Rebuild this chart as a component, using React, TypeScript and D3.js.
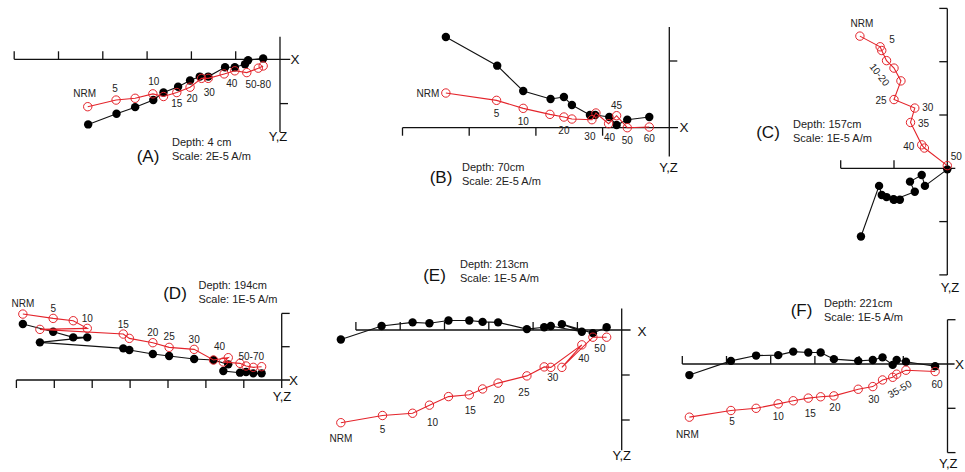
import React, { useEffect, useRef } from "react";
import * as d3 from "d3";

type Pt = [number, number];

// demagnetisation steps (mT), "" = step plotted without a label
const stepsA = ["NRM", "5", "", "10", "", "15", "20", "", "30", "", "40", "", "", "50-80"];
const stepsB = ["NRM", "5", "10", "", "20", "", "30", "", "40", "45", "50", "60"];
const stepsC = ["NRM", "5", "", "10-20", "", "", "25", "30", "35", "40", "", "50"];
const stepsD = ["NRM", "5", "", "10", "", "15", "", "20", "25", "30", "40", "", "", "", "", "50-70", ""];
const stepsE = ["NRM", "5", "", "10", "", "15", "", "20", "25", "", "30", "40", "", "50", ""];
const stepsF = ["NRM", "5", "", "10", "", "15", "", "20", "", "30", "", "", "35-50", "", "60"];

// projections in units of one scale tick: [x, y/z], filled = horizontal, open = vertical
const horA: Pt[] = [[-4.33, 1.47], [-3.69, 1.23], [-3.27, 1.08], [-2.86, 0.92], [-2.63, 0.75], [-2.3, 0.62], [-2.03, 0.48], [-1.81, 0.39], [-1.62, 0.39], [-1.24, 0.18], [-1.02, 0.18], [-0.79, 0.11], [-0.72, 0.02], [-0.38, -0.02]];
const vertA: Pt[] = [[-4.34, 1.07], [-3.7, 0.92], [-3.27, 0.88], [-2.87, 0.78], [-2.63, 0.84], [-2.33, 0.75], [-2.03, 0.63], [-1.77, 0.43], [-1.62, 0.43], [-1.26, 0.33], [-1.02, 0.26], [-0.75, 0.3], [-0.49, 0.2], [-0.38, 0.15]];

const horB: Pt[] = [[-3.35, -1.36], [-2.58, -0.93], [-2.19, -0.55], [-1.78, -0.43], [-1.58, -0.46], [-1.46, -0.34], [-1.19, -0.19], [-1.11, -0.19], [-0.9, -0.16], [-0.79, -0.04], [-0.63, -0.12], [-0.3, -0.16]];
const vertB: Pt[] = [[-3.35, -0.52], [-2.59, -0.41], [-2.19, -0.29], [-1.79, -0.2], [-1.58, -0.16], [-1.46, -0.13], [-1.16, -0.12], [-1.1, -0.22], [-0.91, -0.06], [-0.79, -0.18], [-0.63, 0], [-0.3, -0.01]];

const horC: Pt[] = [[-1.62, 1.28], [-1.28, 0.33], [-1.23, 0.5], [-1.14, 0.54], [-1.01, 0.58], [-0.89, 0.59], [-1.0, 0.59], [-0.61, 0.44], [-0.7, 0.25], [-0.48, 0.125], [-0.42, 0.33], [0, 0.02]];
const vertC: Pt[] = [[-1.64, -2.48], [-1.26, -2.28], [-1.23, -2.21], [-1.14, -2.02], [-1.0, -1.88], [-0.87, -1.64], [-1.0, -1.29], [-0.61, -1.13], [-0.69, -0.86], [-0.48, -0.44], [-0.43, -0.38], [0, -0.05]];

const horD: Pt[] = [[-6.83, -1.68], [-6.03, -1.45], [-5.5, -1.28], [-5.13, -1.28], [-6.38, -1.13], [-4.18, -0.95], [-4.02, -0.9], [-3.4, -0.78], [-2.97, -0.72], [-2.31, -0.63], [-1.8, -0.6], [-1.41, -0.47], [-1.54, -0.27], [-1.1, -0.22], [-0.94, -0.24], [-0.75, -0.2], [-0.53, -0.2]];
const vertD: Pt[] = [[-6.83, -1.98], [-6.03, -1.85], [-5.5, -1.78], [-5.13, -1.55], [-6.38, -1.52], [-4.18, -1.38], [-4.02, -1.25], [-3.4, -1.12], [-2.97, -0.98], [-2.31, -0.92], [-1.8, -0.6], [-1.41, -0.67], [-1.54, -0.54], [-1.1, -0.5], [-0.94, -0.42], [-0.75, -0.38], [-0.53, -0.4]];

const horE: Pt[] = [[-6.34, 0.21], [-5.42, -0.09], [-4.72, -0.17], [-4.34, -0.15], [-3.91, -0.21], [-3.44, -0.21], [-3.14, -0.18], [-2.79, -0.17], [-2.14, -0.02], [-1.75, -0.06], [-1.6, -0.09], [-0.9, 0.04], [-1.35, -0.13], [-0.65, 0.07], [-0.34, -0.06]];
const vertE: Pt[] = [[-6.34, 2.06], [-5.4, 1.9], [-4.72, 1.85], [-4.34, 1.67], [-3.91, 1.48], [-3.44, 1.44], [-3.14, 1.31], [-2.79, 1.18], [-2.14, 1.02], [-1.75, 0.82], [-1.6, 0.83], [-0.9, 0.33], [-1.35, 0.83], [-0.65, 0.16], [-0.34, 0.16]];

const horF: Pt[] = [[-5.84, 0.25], [-4.9, -0.07], [-4.33, -0.19], [-3.83, -0.2], [-3.49, -0.28], [-3.15, -0.26], [-2.87, -0.26], [-2.57, -0.11], [-2.02, -0.07], [-1.69, -0.09], [-1.47, -0.15], [-1.24, 0.02], [-1.15, -0.09], [-0.94, -0.05], [-0.28, 0.05]];
const vertF: Pt[] = [[-5.84, 1.2], [-4.9, 1.05], [-4.33, 1.0], [-3.83, 0.9], [-3.49, 0.83], [-3.15, 0.77], [-2.87, 0.74], [-2.57, 0.72], [-2.02, 0.57], [-1.69, 0.51], [-1.47, 0.36], [-1.24, 0.3], [-1.15, 0.23], [-0.94, 0.14], [-0.28, 0.17]];

const depths = ["Depth: 4 cm", "Depth: 70cm", "Depth: 157cm", "Depth: 194cm", "Depth: 213cm", "Depth: 221cm"];
const scales = ["Scale: 2E-5 A/m", "Scale: 2E-5 A/m", "Scale: 1E-5 A/m", "Scale: 1E-5 A/m", "Scale: 1E-5 A/m", "Scale: 1E-5 A/m"];
const tags = ["(A)", "(B)", "(C)", "(D)", "(E)", "(F)"];

// layout: origin, tick size in px, axis extents (ticks), tick direction, text spots, label offsets
const layout = [
  { ox: 280, oy: 59.3, ux: 44.3, uy: 44.3, hx: [-6, 0.23], vy: [-0.51, 1.64], hDown: false, vLeft: false,
    tag: [148, 156], info: [172, 142], xLab: [295, 59.3], yzLab: [278, 136.5],
    lab: { 0: [-3, -13], 1: [-1, -12], 3: [1, -12], 5: [0, 11], 6: [2, 11], 8: [1, 14], 10: [-3, 13], 13: [-5, 19] } },
  { ox: 669.3, oy: 127.7, ux: 66.7, uy: 66.7, hx: [-4, 0.13], vy: [-1.51, 0.43], hDown: true, vLeft: false,
    tag: [441, 177], info: [462, 167], xLab: [684, 127.7], yzLab: [668.5, 167],
    lab: { 0: [-18, 0], 1: [0, 13], 2: [0, 13], 4: [0, 13], 6: [-2, 17], 8: [1, 14], 9: [0, -10], 10: [0, 13], 11: [0, 11] } },
  { ox: 947.3, oy: 168.3, ux: 53.3, uy: 53.3, hx: [-2, 0.15], vy: [-3, 2], hDown: false, vLeft: true,
    tag: [768, 132], info: [793, 124], xLab: null, yzLab: [950, 287],
    lab: { 0: [2, -13], 1: [12, -7], 3: [-7, 14, 52], 6: [-13, 1], 7: [13, -1], 8: [13, 1], 9: [-13, 2], 11: [9, -9] } },
  { ox: 281.7, oy: 380, ux: 37.9, uy: 33.3, hx: [-7, 0.22], vy: [-2, 0.24], hDown: true, vLeft: false,
    tag: [175, 293.5], info: [198.5, 284.5], xLab: [293.5, 380], yzLab: [282, 396],
    lab: { 0: [0, -11], 1: [0, -10], 3: [0, -10], 5: [0, -10], 7: [0, -10], 8: [0, -11], 9: [0, -10], 10: [6, -14], 15: [-2, -11] } },
  { ox: 621.7, oy: 330, ux: 44.3, uy: 45, hx: [-6, 0.2], vy: [-0.48, 2.67], hDown: false, vLeft: false,
    tag: [434.5, 275], info: [460, 264], xLab: [642, 331.5], yzLab: [621.7, 455],
    lab: { 0: [0, 16], 1: [0, 14], 3: [3, 17], 5: [1, 16], 7: [1, 16], 8: [-3, 17], 10: [2, 10], 11: [2, 14], 13: [7, 11] } },
  { ox: 947.5, oy: 364, ux: 44.2, uy: 44.3, hx: [-6, 0.16], vy: [-1, 2], hDown: false, vLeft: false,
    tag: [801.5, 310], info: [824, 302.7], xLab: [959.5, 364], yzLab: [948.3, 463.5],
    lab: { 0: [-2, 17], 1: [1, 11], 3: [0, 13], 5: [2, 15], 7: [1, 12], 9: [1, 13], 12: [3, 15, -30], 14: [2, 13] } },
];

const steps = [stepsA, stepsB, stepsC, stepsD, stepsE, stepsF];
const hors = [horA, horB, horC, horD, horE, horF];
const verts = [vertA, vertB, vertC, vertD, vertE, vertF];

const RED = "#e4242b";
const FONT = "'Liberation Sans', Arial, Helvetica, sans-serif";

export default function App() {
  const ref = useRef<SVGSVGElement>(null);

  useEffect(() => {
    const svg = d3.select(ref.current);
    svg.selectAll("*").remove();

    layout.forEach((p, i) => {
      const g = svg.append("g").attr("class", "panel");
      const x = d3.scaleLinear().domain([0, 1]).range([p.ox, p.ox + p.ux]);
      const y = d3.scaleLinear().domain([0, 1]).range([p.oy, p.oy + p.uy]);

      // axes
      g.append("line")
        .attr("x1", x(p.hx[0])).attr("x2", x(p.hx[1]))
        .attr("y1", y(0)).attr("y2", y(0))
        .attr("stroke", "#111").attr("stroke-width", 1.3);
      g.append("line")
        .attr("x1", x(0)).attr("x2", x(0))
        .attr("y1", y(p.vy[0])).attr("y2", y(p.vy[1]))
        .attr("stroke", "#111").attr("stroke-width", 1.3);

      const hTicks = d3.range(Math.ceil(p.hx[0]), 0);
      g.selectAll(".htick").data(hTicks).join("line")
        .attr("class", "htick")
        .attr("x1", (d) => x(d)).attr("x2", (d) => x(d))
        .attr("y1", y(0)).attr("y2", y(0) + (p.hDown ? 8 : -8))
        .attr("stroke", "#111").attr("stroke-width", 1.3);

      const vTicks = d3.range(Math.ceil(p.vy[0]), Math.floor(p.vy[1]) + 1).filter((d) => d !== 0);
      g.selectAll(".vtick").data(vTicks).join("line")
        .attr("class", "vtick")
        .attr("x1", x(0)).attr("x2", x(0) + (p.vLeft ? -8 : 8))
        .attr("y1", (d) => y(d)).attr("y2", (d) => y(d))
        .attr("stroke", "#111").attr("stroke-width", 1.3);

      const line = d3.line<Pt>().x((d) => x(d[0])).y((d) => y(d[1]));

      // horizontal projection: filled dots
      g.append("path").attr("d", line(hors[i])).attr("fill", "none")
        .attr("stroke", "#111").attr("stroke-width", 1.1);
      g.selectAll(".hdot").data(hors[i]).join("circle")
        .attr("class", "hdot")
        .attr("cx", (d) => x(d[0])).attr("cy", (d) => y(d[1]))
        .attr("r", 4.2).attr("fill", "#000");

      // vertical projection: open red circles
      g.append("path").attr("d", line(verts[i])).attr("fill", "none")
        .attr("stroke", RED).attr("stroke-width", 1.1);
      g.selectAll(".vdot").data(verts[i]).join("circle")
        .attr("class", "vdot")
        .attr("cx", (d) => x(d[0])).attr("cy", (d) => y(d[1]))
        .attr("r", 4.2).attr("fill", "none")
        .attr("stroke", RED).attr("stroke-width", 1);

      // step labels
      const labs = steps[i]
        .map((t, k) => ({ t, k, off: (p.lab as any)[k] }))
        .filter((d) => d.t !== "" && d.off);
      g.selectAll(".step").data(labs).join("text")
        .attr("class", "step")
        .attr("transform", (d) => {
          const tx = x(verts[i][d.k][0]) + d.off[0];
          const ty = y(verts[i][d.k][1]) + d.off[1];
          return `translate(${tx},${ty}) rotate(${d.off[2] || 0})`;
        })
        .attr("text-anchor", "middle")
        .attr("dominant-baseline", "central")
        .attr("font-size", 10)
        .attr("fill", "#222")
        .text((d) => d.t);

      // axis names
      if (p.xLab) {
        g.append("text").attr("x", p.xLab[0]).attr("y", p.xLab[1])
          .attr("text-anchor", "middle").attr("dominant-baseline", "central")
          .attr("font-size", 13.5).attr("fill", "#111").text("X");
      }
      g.append("text").attr("x", p.yzLab[0]).attr("y", p.yzLab[1])
        .attr("text-anchor", "middle").attr("dominant-baseline", "central")
        .attr("font-size", 13).attr("fill", "#111").text("Y,Z");

      // panel tag and info
      g.append("text").attr("x", p.tag[0]).attr("y", p.tag[1])
        .attr("text-anchor", "middle").attr("dominant-baseline", "central")
        .attr("font-size", 17).attr("fill", "#111").text(tags[i]);
      g.append("text").attr("x", p.info[0]).attr("y", p.info[1])
        .attr("dominant-baseline", "central")
        .attr("font-size", 11).attr("fill", "#222").text(depths[i]);
      g.append("text").attr("x", p.info[0]).attr("y", p.info[1] + 14)
        .attr("dominant-baseline", "central")
        .attr("font-size", 11).attr("fill", "#222").text(scales[i]);
    });
  }, []);

  return (
    <svg
      ref={ref}
      width={965}
      height={472}
      style={{ position: "absolute", left: 0, top: 0, background: "#fff", fontFamily: FONT }}
    />
  );
}
